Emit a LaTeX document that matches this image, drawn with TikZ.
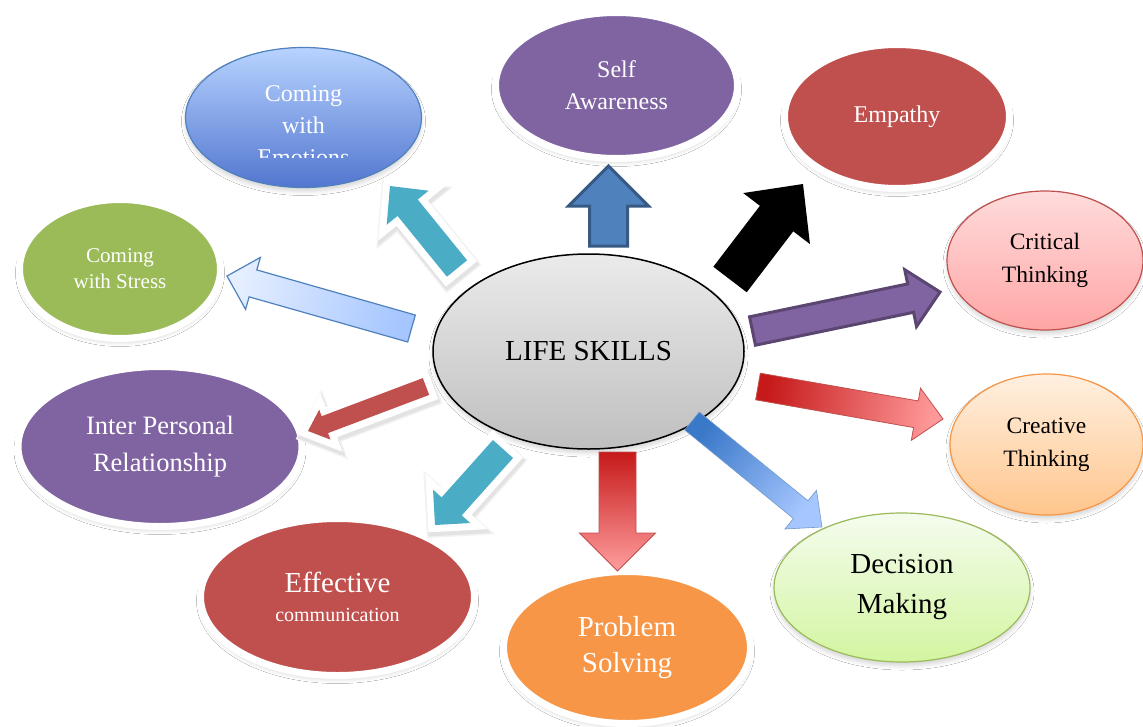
\documentclass[tikz,border=0pt]{standalone}
\usepackage{fontspec}
\setmainfont{Liberation Serif}
\usetikzlibrary{shapes.geometric, calc, shadows.blur}

\definecolor{skillpurple}{HTML}{8064A2}
\definecolor{skillred}{HTML}{C0504D}
\definecolor{skillgreen}{HTML}{9BBB59}
\definecolor{skillorange}{HTML}{F79646}
\definecolor{skillteal}{HTML}{4BACC6}
\definecolor{skillblue}{HTML}{4F81BD}
\definecolor{paleblue}{HTML}{E4EEFF}
\definecolor{softblue}{HTML}{A6C6FF}
\definecolor{deepblue}{HTML}{3A78C8}
\definecolor{palegreen}{HTML}{F4FCEE}
\definecolor{limegreen}{HTML}{D3F5A0}

% block arrow from tail #2 to tip #3: #4 half shaft, #5 half head, #6 head length
\newcommand\blockarrow[6][]{%
  \pgfmathanglebetweenpoints{\pgfpointanchor{#2}{center}}{\pgfpointanchor{#3}{center}}%
  \pgfmathsetmacro\shadeangle{\pgfmathresult-90}%
  \coordinate (neck) at ($(#3)!#6pt!(#2)$);
  \path[#1]
    ($(#2)!#4pt!90:(#3)$) -- ($(neck)!#4pt!90:(#3)$) -- ($(neck)!#5pt!90:(#3)$)
    -- (#3) -- ($(neck)!#5pt!-90:(#3)$) -- ($(neck)!#4pt!-90:(#3)$)
    -- ($(#2)!#4pt!-90:(#3)$) -- cycle;
}

\begin{document}
\begin{tikzpicture}[
        x=1pt, y=-1pt,
        bubble/.style={ellipse, inner sep=0pt, align=center, text=white,
            blur shadow={shadow xshift=0pt, shadow yshift=-4pt, shadow blur radius=4pt, shadow opacity=16}},
        ringed/.style={bubble, draw=white, line width=7pt},
        size/.style 2 args={minimum width=#1pt, minimum height=#2pt},
        txt/.style 2 args={font=\fontsize{#1pt}{#2pt}\selectfont},
        along/.style={shading angle=\shadeangle},
        rim/.style={
            preaction={draw=black!5, line width=19pt, line join=miter, transform canvas={xshift=1pt, yshift=-3pt}},
            preaction={draw=black!11, line width=16pt, line join=miter, transform canvas={xshift=1pt, yshift=-3pt}},
            preaction={draw=white, line width=14pt, line join=miter}},
    ]
    \useasboundingbox[fill=white] (0,0) rectangle (1143,726);

    % the skills round the centre
    \node (skills)[bubble, size={311}{195}, draw=black, line width=1.5pt, text=black,
        top color=black!8, bottom color=black!25, txt={29}{34}] at (588.5,351.5) {LIFE SKILLS};
    \node (emotions)[bubble, size={236}{140}, draw=skillblue, line width=1.2pt,
        top color=blue!40!cyan!20!white!90!blue, bottom color=skillblue!80!blue!90!white] at (303.5,117.5) {};
    \begin{scope}
        \clip (150,40) rectangle (460,157);
        \node (emotions-text)[text=white, align=center, txt={24}{32}] at (303.5,126) {Coming\\with\\Emotions};
    \end{scope}
    \node (stress)[ringed, size={201}{139}, fill=skillgreen, txt={21}{26}] at (120,269) {Coming\\with Stress};
    \node (aware)[ringed, size={242}{146}, fill=skillpurple, txt={24}{32}] at (616.5,85.5) {Self\\Awareness};
    \node (empathy)[ringed, size={225}{144}, fill=skillred, txt={24}{30}] at (897,116.5) {Empathy};
    \node (critical)[bubble, size={196}{139}, draw=skillred, line width=1.2pt, text=black,
        top color=red!14, bottom color=red!35, txt={23.5}{33}] at (1045,260.5) {Critical\\Thinking};
    \node (inter)[ringed, size={284}{160}, fill=skillpurple, txt={26.5}{37}] at (160,446.5) {Inter Personal\\Relationship};
    \node (effective)[ringed, size={274}{157}, fill=skillred, txt={29}{32}] at (337.5,597)
        {Effective\\[-3pt]{\fontsize{20pt}{24pt}\selectfont communication}};
    \node (problem)[ringed, size={247}{152}, fill=skillorange, txt={29}{36}] at (627,647.5) {Problem\\Solving};
    \node (decision)[bubble, size={256}{149}, draw=skillgreen, line width=1.2pt, text=black,
        top color=palegreen, bottom color=limegreen, txt={29}{40}] at (902,587.5) {Decision\\Making};
    \node (creative)[bubble, size={193}{141}, draw=skillorange, line width=1.2pt, text=black,
        top color=orange!12, bottom color=orange!45, txt={23.5}{33}] at (1046.5,444.5) {Creative\\Thinking};

    % arrow ends
    \coordinate (stress-tail) at (411.5,328.5);   \coordinate (stress-tip) at (227,276);
    \coordinate (emotions-tail) at (457,268.5);   \coordinate (emotions-tip) at (390,186);
    \coordinate (aware-tail) at (608.5,246);      \coordinate (aware-tip) at (608.5,166);
    \coordinate (empathy-tail) at (730,279.5);    \coordinate (empathy-tip) at (803,184);
    \coordinate (critical-tail) at (752.5,331);   \coordinate (critical-tip) at (940,292);
    \coordinate (creative-tail) at (758,386.5);   \coordinate (creative-tip) at (943,419);
    \coordinate (decision-tail) at (692,421);     \coordinate (decision-tip) at (822,527);
    \coordinate (problem-tail) at (617.5,452);    \coordinate (problem-tip) at (617.5,571);
    \coordinate (effective-tail) at (503,449);    \coordinate (effective-tip) at (435,525);
    \coordinate (inter-tail) at (426,386.5);      \coordinate (inter-tip) at (308,431);

    \blockarrow[draw=skillblue, line width=1.2pt, bottom color=softblue, top color=paleblue, along]{stress-tail}{stress-tip}{14}{27}{27}
    \blockarrow[rim, fill=skillteal]{emotions-tail}{emotions-tip}{13}{27}{28}
    \blockarrow[fill=skillblue, draw=skillblue!70!black, line width=3pt]{aware-tail}{aware-tip}{19}{40}{40}
    \blockarrow[fill=black]{empathy-tail}{empathy-tip}{21}{42}{43.5}
    \blockarrow[fill=skillpurple, draw=skillpurple!70!black, line width=3pt]{critical-tail}{critical-tip}{14.5}{29}{30}
    \blockarrow[draw=skillred, line width=0.8pt, bottom color=red!75!black!90!white, top color=red!40!white, along]{creative-tail}{creative-tip}{13.5}{26.5}{27.5}
    \blockarrow[draw=skillblue!80, line width=0.6pt, bottom color=deepblue, top color=softblue, along]{decision-tail}{decision-tip}{11.5}{25}{27.5}
    \blockarrow[draw=skillred, line width=0.8pt, bottom color=red!75!black!90!white, top color=red!38!white, along]{problem-tail}{problem-tip}{18.5}{38}{38}
    \blockarrow[rim, fill=skillteal]{effective-tail}{effective-tip}{13.5}{25}{25}
    \blockarrow[rim, fill=skillred]{inter-tail}{inter-tip}{9}{16}{18}
\end{tikzpicture}
\end{document}
